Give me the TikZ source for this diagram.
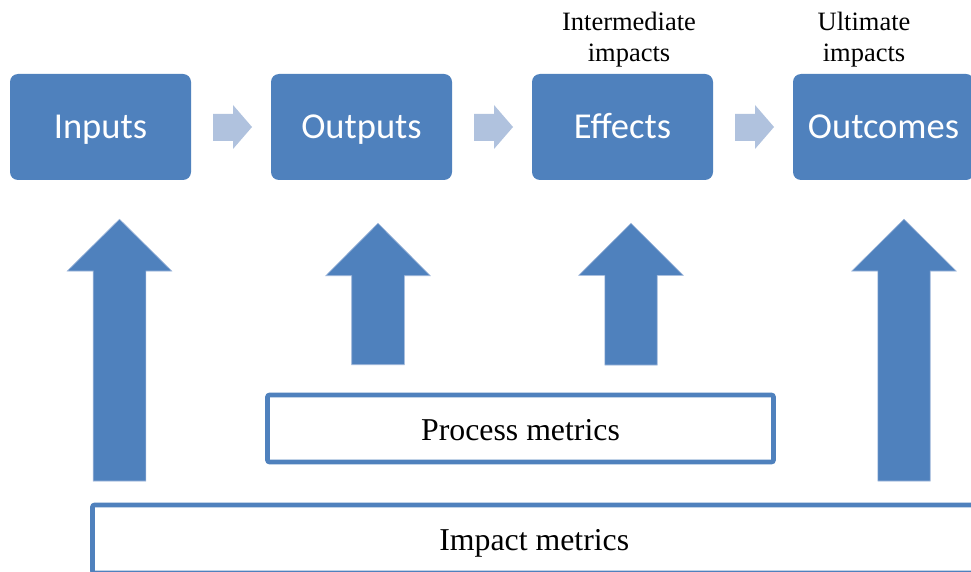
\documentclass[tikz,border=0pt]{standalone}
\usepackage{fontspec}
\setmainfont{Liberation Serif}
\newfontfamily\boxfont{Carlito}
\definecolor{blu}{HTML}{4F81BD}
\definecolor{lightblu}{HTML}{B0C2DE}
\definecolor{edgeblu}{HTML}{9DB6DA}
\newcommand\bigup[6]{% tipx, tipy, head half width, shaft half width, head base y, bottom y
  \filldraw[fill=blu,draw=edgeblu,line width=0.6pt]
    ({#1-#4},#6) -- ({#1-#4},#5) -- ({#1-#3},#5) -- (#1,#2) -- ({#1+#3},#5)
    -- ({#1+#4},#5) -- ({#1+#4},#6) -- cycle;}
\newcommand\chevron[1]{%
  \fill[lightblu] (#1,114) -- ({#1+20},114) -- ({#1+20},105) -- ({#1+39},127)
    -- ({#1+20},149) -- ({#1+20},141) -- (#1,141) -- cycle;}
\begin{document}
\begin{tikzpicture}[x=1pt,y=-1pt,
  stage/.style={fill=blu,rounded corners=8pt,minimum width=181pt,minimum height=106pt,
    inner sep=0pt,text=white,text height=23pt,text depth=0pt,
    font=\boxfont\fontsize{36.5}{44}\selectfont},
  metric/.style={draw=blu,line width=4.6pt,fill=white,rounded corners=2pt,inner sep=0pt,
    text height=23pt,text depth=0pt,font=\fontsize{31.8}{38}\selectfont},
  toplabel/.style={align=center,inner sep=0pt,font=\fontsize{26.5}{31}\selectfont}]
\useasboundingbox (0,0) rectangle (971,572);
\clip (0,0) rectangle (971,572);
\fill[white] (0,0) rectangle (971,572);

\node[stage] (inputs)   at (100.5,127) {Inputs};
\node[stage] (outputs)  at (361.5,127) {Outputs};
\node[stage] (effects)  at (622.5,127) {Effects};
\node[stage] (outcomes) at (883.5,127) {Outcomes};

\chevron{213}
\chevron{474}
\chevron{735}

\node[toplabel,anchor=base] (interm) at (629,61.7) {Intermediate\\impacts};
\node[toplabel,anchor=base] (ultim) at (864,61.7) {Ultimate\\impacts};

\bigup{119.5}{219.2}{52.2}{26.3}{271}{481}
\bigup{378}{223.3}{52.2}{26.3}{275.7}{364.7}
\bigup{631}{223.3}{52.2}{26.2}{275.3}{365}
\bigup{904}{219.2}{52.2}{26.2}{271}{481}

\node[metric,minimum width=506pt,minimum height=67pt] (process) at (520.5,428.5) {Process metrics};
\node[metric,minimum width=883.5pt,minimum height=68pt,text height=22pt] (impact) at (534.25,539) {Impact metrics};
\end{tikzpicture}
\end{document}
